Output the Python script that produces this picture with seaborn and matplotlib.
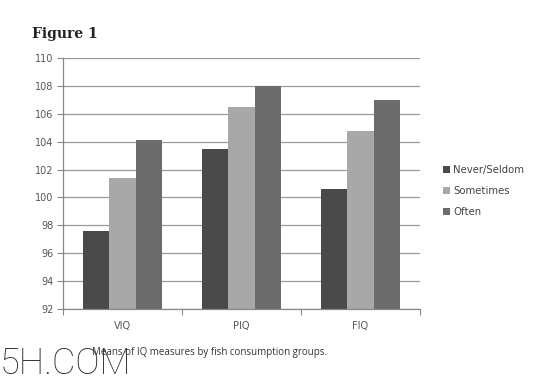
import matplotlib
matplotlib.use("Agg")
import matplotlib.pyplot as plt
import seaborn as sns
import pandas as pd

# data
measures = ["VIQ", "PIQ", "FIQ"]
groups = ["Never/Seldom", "Sometimes", "Often"]
never_seldom = [97.6, 103.5, 100.6]
sometimes = [101.4, 106.5, 104.8]
often = [104.1, 108.0, 107.0]
y_ticks = [92, 94, 96, 98, 100, 102, 104, 106, 108, 110]

colors = ["#4a4a4a", "#a8a8a8", "#6c6c6c"]

rows = []
for g, vals in zip(groups, [never_seldom, sometimes, often]):
    for m, v in zip(measures, vals):
        rows.append({"measure": m, "group": g, "iq": v})
df = pd.DataFrame(rows)

sns.set_style("white")
plt.rcParams["font.family"] = ["DejaVu Sans"]

fig = plt.figure(figsize=(5.59, 3.82), dpi=100)
ax = fig.add_axes([0.1127, 0.1911, 0.6386, 0.6571])

sns.barplot(data=df, x="measure", y="iq", hue="group", order=measures,
            hue_order=groups, palette=colors, width=0.66, gap=0,
            saturation=1, ax=ax, legend=True, linewidth=0)

ax.set_ylim(92, 110)
ax.set_xlim(-0.5, 2.5)
ax.set_yticks(y_ticks)
ax.set_yticklabels([str(t) for t in y_ticks], fontsize=7, color="#555555")
ax.tick_params(axis="y", length=4, width=0.8, color="#888888", pad=3, left=True)
ax.tick_params(axis="x", which="major", length=0, labelsize=7, labelcolor="#555555", pad=9)
ax.set_xticks([-0.5, 0.5, 1.5, 2.5], minor=True)
ax.tick_params(axis="x", which="minor", length=4, width=0.8, color="#888888", bottom=True)
ax.set_xlabel("")
ax.set_ylabel("")

ax.yaxis.grid(True, color="#9a9a9a", linewidth=0.9)
ax.set_axisbelow(True)
for s in ["top", "right"]:
    ax.spines[s].set_visible(False)
for s in ["left", "bottom"]:
    ax.spines[s].set_color("#888888")
    ax.spines[s].set_linewidth(0.9)

leg = ax.legend(loc="center left", bbox_to_anchor=(0.776, 0.5),
                bbox_transform=fig.transFigure, frameon=False, fontsize=7.3,
                handlelength=0.7, handleheight=0.7, handletextpad=0.3,
                labelspacing=1.05)
for t in leg.get_texts():
    t.set_color("#444444")

fig.text(0.057, 0.9, "Figure 1", fontsize=10, fontweight="bold",
         family="DejaVu Serif", color="#222222")
fig.text(0.165, 0.07, "Means of IQ measures by fish consumption groups.",
         fontsize=7, color="#333333", family="Open Sans")
fig.text(0.0, 0.0, "5H.COM", fontsize=26, family="Roboto",
         fontweight="light", color="#333333", va="bottom")

fig.savefig("out.png", dpi=100)
